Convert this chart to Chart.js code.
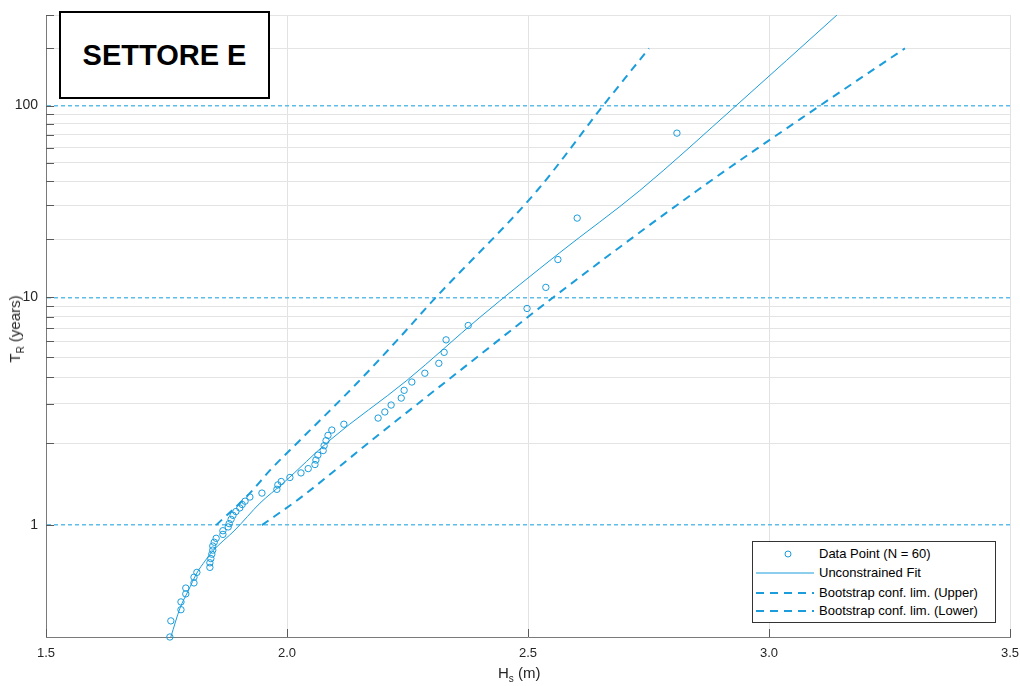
<!DOCTYPE html>
<html>
<head>
<meta charset="utf-8">
<script src="https://cdn.jsdelivr.net/npm/chart.js@4.4.1/dist/chart.umd.min.js"></script>
<style>
html,body{margin:0;padding:0;background:#fff;}
#wrap{position:relative;width:1020px;height:686px;font-family:Arial,"Liberation Sans",sans-serif;overflow:hidden;}
#c{position:absolute;left:0;top:0;}
#tag{position:absolute;left:59px;top:11px;width:207px;height:84px;border:2px solid #000;background:#fff;
  display:flex;align-items:center;justify-content:center;font-weight:bold;font-size:29px;color:#000;}
#legend{position:absolute;left:752px;top:541px;width:242px;height:80px;border:1px solid #333;background:#fff;}
#legend svg{position:absolute;left:0;top:0;}
#legend span{position:absolute;left:66px;font-size:13px;color:#000;line-height:14px;white-space:nowrap;}
#ytitle{position:absolute;left:16px;top:329px;transform:translate(-50%,-50%) rotate(-90deg);
  font-size:15px;color:#262626;white-space:nowrap;}
#xtitle{position:absolute;left:498px;top:664px;font-size:15px;color:#262626;white-space:nowrap;}
sub{font-size:10px;vertical-align:-4px;}
</style>
</head>
<body>
<div id="wrap">
  <canvas id="c" width="1020" height="686"></canvas>
  <div id="tag">SETTORE E</div>
  <div id="ytitle">T<sub>R</sub> (years)</div>
  <div id="xtitle">H<sub>s</sub> (m)</div>
  <div id="legend">
    <svg width="242" height="80">
      <circle cx="35" cy="12" r="3" fill="none" stroke="#1b9ddb" stroke-width="1"/>
      <line x1="3" y1="31" x2="61" y2="31" stroke="#1b9ddb" stroke-width="1"/>
      <line x1="3" y1="51" x2="61" y2="51" stroke="#1b9ddb" stroke-width="2" stroke-dasharray="8,6"/>
      <line x1="3" y1="69" x2="61" y2="69" stroke="#1b9ddb" stroke-width="2" stroke-dasharray="8,6"/>
    </svg>
    <span style="top:5px">Data Point (N = 60)</span>
    <span style="top:24px">Unconstrained Fit</span>
    <span style="top:44px">Bootstrap conf. lim. (Upper)</span>
    <span style="top:62px">Bootstrap conf. lim. (Lower)</span>
  </div>
</div>
<script>
// ---- axis transform (Gumbel reduced variate of return period, lambda = events/year) ----
const LAMBDA = 1.5;
const gum = T => -Math.log(-Math.log(1 - 1 / (LAMBDA * T)));

// ---- data ----
const hsData = [2.809,2.602,2.562,2.537,2.498,2.376,2.330,2.326,2.315,2.286,
                2.259,2.243,2.237,2.216,2.203,2.189,2.118,2.093,2.085,2.081,
                2.077,2.075,2.064,2.060,2.058,2.044,2.029,2.006,1.988,1.981,
                1.979,1.948,1.923,1.913,1.907,1.902,1.894,1.888,1.884,1.880,
                1.878,1.867,1.867,1.853,1.849,1.846,1.846,1.844,1.842,1.840,
                1.840,1.813,1.807,1.807,1.790,1.790,1.780,1.780,1.759,1.757];
const trData = [71.6,25.7,15.66,11.26,8.79,7.21,6.11,5.30,4.68,4.19,
                3.80,3.47,3.19,2.96,2.75,2.58,2.42,2.28,2.16,2.05,
                1.95,1.86,1.78,1.70,1.63,1.57,1.51,1.45,1.40,1.36,
                1.31,1.27,1.23,1.19,1.16,1.13,1.10,1.07,1.04,1.01,
                0.988,0.964,0.942,0.920,0.899,0.880,0.861,0.843,0.825,0.809,
                0.793,0.777,0.763,0.748,0.736,0.724,0.710,0.699,0.687,0.676];

const fitHs = [1.759,1.778,1.795,1.813,1.830,1.846,1.892,1.944,1.992,2.089,2.249,2.400,2.566,2.732,2.932,3.141];
const fitTr = [0.676,0.701,0.730,0.775,0.816,0.857,0.968,1.172,1.380,2.059,3.874,7.92,17.0,35.8,100,300];

const upHs = [1.853,1.923,1.965,2.027,2.145,2.234,2.303,2.519,2.656,2.751];
const upTr = [1.0,1.269,1.548,2.059,3.748,6.289,9.66,35.8,100,200];

const loHs = [1.948,2.027,2.176,2.407,2.552,2.851,3.106,3.282];
const loTr = [1.0,1.219,2.059,5.30,10.0,35.8,100,200];

const xTicks = [1.5,2.0,2.5,3.0,3.5];
const yTickT = [1,2,3,4,5,6,7,8,9,10,20,30,40,50,60,70,80,90,100,200,300];
const yLabelT = [1,10,100];
const yRangeT = [0.676,300];

// ---- build ----
const BLUE = '#1b9ddb';
const pts = (xs, ts) => xs.map((x, i) => ({x: x, y: gum(ts[i])}));
const isMajor = i => yLabelT.includes(yTickT[i]);

const inwardTicks = {
  id: 'inwardTicks',
  afterDatasetsDraw(chart) {
    const {ctx, chartArea: a, scales: {x, y}} = chart;
    ctx.save();
    ctx.strokeStyle = '#5a5a5a';
    ctx.lineWidth = 1;
    ctx.beginPath();
    y.ticks.forEach(t => {
      const py = Math.round(y.getPixelForValue(t.value)) + 0.5;
      ctx.moveTo(a.left, py); ctx.lineTo(a.left + 8, py);
    });
    x.ticks.forEach(t => {
      const px = Math.round(x.getPixelForValue(t.value)) + 0.5;
      ctx.moveTo(px, a.bottom); ctx.lineTo(px, a.bottom - 8);
    });
    ctx.stroke();
    ctx.restore();
  }
};

new Chart(document.getElementById('c'), {
  type: 'scatter',
  data: {
    datasets: [
      {label: 'Data Point (N = 60)', data: pts(hsData, trData), showLine: false,
       pointStyle: 'circle', pointRadius: 3.2, pointBorderWidth: 1,
       pointBorderColor: BLUE, pointBackgroundColor: 'rgba(0,0,0,0)', clip: false, order: 0},
      {label: 'Unconstrained Fit', data: pts(fitHs, fitTr), showLine: true, borderColor: BLUE,
       borderWidth: 1, pointRadius: 0, cubicInterpolationMode: 'monotone', order: 1},
      {label: 'Bootstrap conf. lim. (Upper)', data: pts(upHs, upTr), showLine: true, borderColor: BLUE,
       borderWidth: 2, borderDash: [8, 6], pointRadius: 0, cubicInterpolationMode: 'monotone', order: 2},
      {label: 'Bootstrap conf. lim. (Lower)', data: pts(loHs, loTr), showLine: true, borderColor: BLUE,
       borderWidth: 2, borderDash: [8, 6], pointRadius: 0, cubicInterpolationMode: 'monotone', order: 3}
    ]
  },
  options: {
    responsive: false, animation: false, devicePixelRatio: 1,
    layout: {padding: {left: 0, right: 10, top: 15, bottom: 0}},
    plugins: {legend: {display: false}, tooltip: {enabled: false}, title: {display: false}},
    scales: {
      x: {
        type: 'linear', min: xTicks[0], max: xTicks[xTicks.length - 1],
        afterBuildTicks: s => { s.ticks = xTicks.map(v => ({value: v})); },
        afterFit: s => { s.height = 49; s.paddingLeft = 0; s.paddingRight = 0; },
        grid: {color: '#e2e2e2', lineWidth: 1, drawTicks: false},
        border: {color: '#7a7a7a', width: 1},
        ticks: {padding: 9, color: '#262626', autoSkip: false, maxRotation: 0,
                font: {family: 'Arial, "Liberation Sans", sans-serif', size: 13},
                callback: v => Number(v).toFixed(1)}
      },
      y: {
        type: 'linear', min: gum(yRangeT[0]), max: gum(yRangeT[1]),
        afterBuildTicks: s => { s.ticks = yTickT.map(t => ({value: gum(t)})); },
        afterFit: s => { s.width = 46; s.paddingTop = 0; s.paddingBottom = 0; },
        grid: {
          color: c => isMajor(c.index) ? '#5fbee9' : '#e4e4e4',
          lineWidth: c => isMajor(c.index) ? 1.5 : 1,
          drawTicks: false
        },
        border: {color: '#7a7a7a', width: 1, dash: c => (c.index !== undefined && isMajor(c.index)) ? [4, 3] : []},
        ticks: {padding: 8, color: '#262626', autoSkip: false,
                font: {family: 'Arial, "Liberation Sans", sans-serif', size: 14},
                callback: (v, i) => isMajor(i) ? String(yTickT[i]) : ''}
      }
    }
  },
  plugins: [inwardTicks]
});
</script>
</body>
</html>
